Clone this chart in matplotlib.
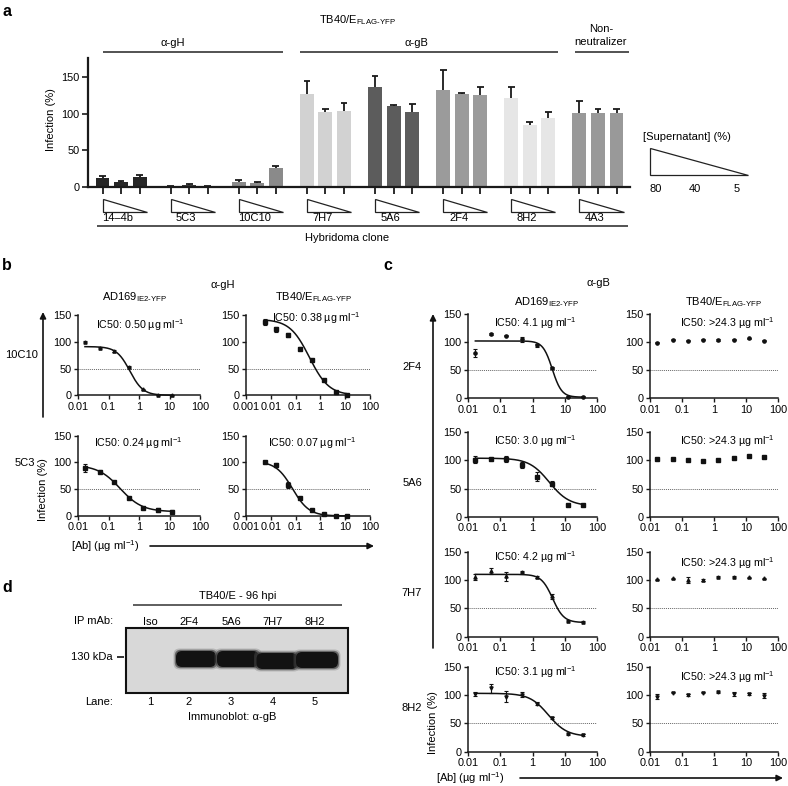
import numpy as np
import matplotlib
matplotlib.use('Agg')
import matplotlib.pyplot as plt
from matplotlib.patches import Polygon, FancyBboxPatch, Rectangle
from matplotlib.ticker import NullLocator

plt.rcParams['font.family'] = ['Liberation Sans', 'DejaVu Sans']
plt.rcParams['mathtext.fontset'] = 'custom'
plt.rcParams['mathtext.rm'] = 'Liberation Sans'
plt.rcParams['mathtext.it'] = 'Liberation Sans:italic'
plt.rcParams['mathtext.bf'] = 'Liberation Sans:bold'
plt.rcParams['font.size'] = 8

# ---------------- data: panel a (bar chart) ----------------
clones_a = ['14–4b', '5C3', '10C10', '7H7', '5A6', '2F4', '8H2', '4A3']
supernatant = ['80', '40', '5']
bar_vals = [[11.5, 6.5, 13.5], [1.0, 2.0, 1.0], [7, 5, 26], [127, 103, 104],
            [136, 110, 102], [133, 127, 125], [121, 85, 94], [101, 101, 101]]
bar_errs = [[3.5, 1, 2.5], [0.5, 1.5, 0.5], [2.5, 1, 2], [18, 3, 11],
            [16, 2, 11], [27, 2, 12], [16, 3, 8.5], [16, 5, 5]]
bar_colors = ['#262626', '#3a3a3a', '#8a8a8a', '#d2d2d2',
              '#5c5c5c', '#9b9b9b', '#e6e6e6', '#999999']

# ---------------- data: panel b (alpha-gH) ----------------
conc_b_ad = [0.0169, 0.0508, 0.152, 0.457, 1.37, 4.12, 12.3]
conc_b_tb = [0.0056, 0.0169, 0.0508, 0.152, 0.457, 1.37, 4.12, 12.3]
b_10c10_ad = [100, 89, 82, 53, 11, 0.5, 0.5]
b_10c10_ad_err = [1, 1, 2, 1, 1, 0.5, 0.5]
b_10c10_tb = [137, 123, 113, 87, 66, 28, 7, 1]
b_10c10_tb_err = [5, 4, 4, 3, 2, 2, 1, 1]
b_5c3_ad = [90, 83, 63, 34, 15.5, 11, 8]
b_5c3_ad_err = [8, 2, 2, 2, 1.5, 4, 3]
b_5c3_tb = [100, 95, 58, 33, 11, 3, 0.5, 0.5]
b_5c3_tb_err = [1, 4, 5, 2, 2, 1, 0.5, 0.5]
# fitted curve parameters: top, bottom, IC50, hill
b_fits = {'10c10_ad': [91, 0, 0.5, 2.0], '10c10_tb': [142, 0, 0.36, 1.1],
          '5c3_ad': [95, 8, 0.24, 1.2], '5c3_tb': [102, 0, 0.075, 1.3]}
b_ic50 = ['0.50', '0.38', '0.24', '0.07']

# ---------------- data: panel c (alpha-gB) ----------------
conc_c = [0.0169, 0.0508, 0.152, 0.457, 1.37, 4.12, 12.3, 37.0]
clones_c = ['2F4', '5A6', '7H7', '8H2']
markers_c = ['o', 's', '^', 'v']
c_ad = [[80, 114, 111, 105, 94, 54, 3, 3],
        [101, 103, 102, 92, 71, 59, 21, 21],
        [105, 116, 107, 115, 105, 71, 28, 26.5],
        [102, 112, 97, 100.6, 85, 59.4, 31, 29.4]]
c_ad_err = [[7, 2, 1, 4, 2, 2, 1, 1],
            [6, 1, 5, 5, 8, 4, 1, 1],
            [5, 5, 8, 1, 2, 5, 1, 1],
            [4, 8, 10, 4, 3, 2, 1, 2]]
c_tb = [[99, 104, 102.5, 104, 104, 104, 107, 102.5],
        [102.6, 102.6, 101, 99.6, 101, 104, 107, 105.6],
        [101, 103, 100, 100, 106, 106, 104.7, 103],
        [97, 104, 100, 104, 104.7, 101.8, 101.8, 99]]
c_tb_err = [[1, 1, 1, 1, 2, 1, 1, 1],
            [1, 1, 1, 1, 1, 1, 1, 1],
            [1, 1, 5, 1, 1, 1, 1, 1],
            [4, 1, 1, 1, 1, 4, 1, 5]]
c_fits = [[102, 2, 4.1, 3.0], [104, 19, 3.3, 1.4],
          [110, 25, 4.2, 2.5], [103, 27, 3.1, 1.5]]
c_ic50 = ['4.1', '3.0', '4.2', '3.1']

# ---------------- data: panel d (blot) ----------------
lane_names = ['Iso', '2F4', '5A6', '7H7', '8H2']
lane_nums = ['1', '2', '3', '4', '5']
band_present = [0, 1, 1, 1, 1]

W, H = 788, 786
fig = plt.figure(figsize=(W / 100, H / 100), dpi=100)

ov = fig.add_axes([0, 0, 1, 1])
ov.set_xlim(0, W)
ov.set_ylim(H, 0)
ov.axis('off')


def px_axes(l, t, r, b):
    return fig.add_axes([l / W, 1 - b / H, (r - l) / W, (b - t) / H])


def txt(x, y, s, **kw):
    kw.setdefault('ha', 'center')
    kw.setdefault('va', 'center')
    ov.text(x, y, s, **kw)


def hline(x0, x1, y, lw=1.3, color='#444444'):
    ov.plot([x0, x1], [y, y], color=color, lw=lw, solid_capstyle='butt')


def arrow(x0, y0, x1, y1):
    ov.annotate('', xy=(x1, y1), xytext=(x0, y0),
                arrowprops=dict(arrowstyle='-|>', lw=1.2, color='#111111',
                                mutation_scale=9, shrinkA=0, shrinkB=0))


TB = r'TB40/E$_{\text{FLAG-YFP}}$'
AD = r'AD169$_{\text{IE2-YFP}}$'
UNIT = r' µg ml$^{-1}$'
IC_FS = 7.7
TICK_FS = 7.8

# panel letters
for lab, x, y in [('a', 7, 12), ('b', 7, 266), ('c', 388, 266), ('d', 7, 588)]:
    txt(x, y, lab, fontsize=11.5, fontweight='bold')

# ================= panel a =================
A_L, A_R, A_T, A_B = 88, 630, 57.5, 186.7
XMIN, XMAX = -0.485, 7.47
axa = px_axes(A_L, A_T, A_R, A_B)
offs = [-0.272, 0.0, 0.272]
xs_all = []
for i, (vals, errs, col) in enumerate(zip(bar_vals, bar_errs, bar_colors)):
    x = np.array([i + o for o in offs])
    v = np.array(vals)
    e = np.array(errs)
    axa.bar(x, v, width=0.205, color=col, zorder=2)
    axa.vlines(x, v, v + e, color='#1a1a1a', lw=1.3, zorder=3)
    axa.hlines(v + e, x - 0.05, x + 0.05, color='#1a1a1a', lw=1.3, zorder=3)
    xs_all.extend(x)
axa.set_xlim(XMIN, XMAX)
axa.set_ylim(0, 177)
axa.set_yticks([0, 50, 100, 150])
axa.set_xticks(xs_all)
axa.set_xticklabels([])
for s in ['top', 'right']:
    axa.spines[s].set_visible(False)
for s in ['left', 'bottom']:
    axa.spines[s].set_linewidth(1.6)
    axa.spines[s].set_color('#1a1a1a')
axa.tick_params(axis='x', length=5, width=1.3, color='#1a1a1a')
axa.tick_params(axis='y', length=4, width=1.2, color='#1a1a1a',
                labelsize=TICK_FS, pad=2)
axa.patch.set_alpha(0)
txt(51, 120, 'Infection (%)', rotation=90)


def a_px(x):
    return A_L + (x - XMIN) / (XMAX - XMIN) * (A_R - A_L)


for i, name in enumerate(clones_a):
    b1 = a_px(i + offs[0])
    b3 = a_px(i + offs[2])
    ov.add_patch(Polygon([(b1, 199), (b1, 212), (b3 + 7, 212)], closed=True,
                         facecolor='white', edgecolor='#222222', lw=0.9))
    txt(a_px(i) - 3, 218, name)
hline(97, 628, 225.5)
txt(347, 238, 'Hybridoma clone')

txt(357, 20, TB)
hline(a_px(offs[0]), a_px(2.38), 52)
txt(173, 43, 'α-gH')
hline(a_px(2.63), a_px(6.41), 52)
txt(416, 43, 'α-gB')
hline(a_px(6.66), a_px(7.46), 52)
txt(601, 29, 'Non-')
txt(601, 42, 'neutralizer')

# supernatant legend
txt(643, 137, '[Supernatant] (%)', ha='left')
ov.add_patch(Polygon([(650, 148), (650, 175), (748, 175)], closed=True,
                     facecolor='white', edgecolor='#222222', lw=0.9))
for lab, x in zip(supernatant, [656, 695, 737]):
    txt(x, 188.5, lab)


# ================= dose-response helpers =================
def style_dr(ax, xmin):
    ax.set_xscale('log')
    ax.set_xlim(xmin, 100)
    ax.set_ylim(0, 150)
    ticks = [10.0 ** k for k in range(int(round(np.log10(xmin))), 3)]
    ax.set_xticks(ticks)
    ax.set_xticklabels(['%g' % t for t in ticks])
    ax.xaxis.set_minor_locator(NullLocator())
    ax.set_yticks([0, 50, 100, 150])
    for s in ['top', 'right']:
        ax.spines[s].set_visible(False)
    for s in ['left', 'bottom']:
        ax.spines[s].set_linewidth(1.1)
        ax.spines[s].set_color('#1a1a1a')
    ax.tick_params(length=3, width=1.0, color='#1a1a1a', labelsize=TICK_FS, pad=1.5)
    ax.axhline(50, ls=(0, (1, 1)), color='#666666', lw=0.7, zorder=1)
    ax.patch.set_alpha(0)


def plot_dr(ax, conc, vals, errs, marker, fit=None):
    ax.errorbar(conc, vals, yerr=errs, fmt=marker, ms=2.3, color='#111111',
                ecolor='#111111', elinewidth=0.8, capsize=1.5, capthick=0.8,
                clip_on=False, zorder=4)
    if fit is not None:
        top, bot, ic, h = fit
        xs = np.logspace(np.log10(conc[0]), np.log10(conc[-1]), 200)
        ax.plot(xs, bot + (top - bot) / (1 + (xs / ic) ** h), color='#111111',
                lw=1.1, zorder=3, clip_on=False)


# ================= panel b =================
txt(223, 285, 'α-gH')
txt(135, 297, AD)
txt(313, 297, TB)
b_rows = [(315, 395.3), (435.7, 516)]
b_sets = [
    [(conc_b_ad, b_10c10_ad, b_10c10_ad_err, '^', b_fits['10c10_ad']),
     (conc_b_tb, b_10c10_tb, b_10c10_tb_err, 's', b_fits['10c10_tb'])],
    [(conc_b_ad, b_5c3_ad, b_5c3_ad_err, 's', b_fits['5c3_ad']),
     (conc_b_tb, b_5c3_tb, b_5c3_tb_err, 's', b_fits['5c3_tb'])],
]
b_ic_pos = [[(140, 325), (316, 318)], [(138, 443), (312, 443)]]
k = 0
for r, (top, bot) in enumerate(b_rows):
    for c, (l, rr, xmin) in enumerate([(78, 200, 0.01), (246, 370, 0.001)]):
        ax = px_axes(l, top, rr, bot)
        style_dr(ax, xmin)
        conc, v, e, m, f = b_sets[r][c]
        plot_dr(ax, conc, v, e, m, f)
        x, y = b_ic_pos[r][c]
        txt(x, y, 'IC50: ' + b_ic50[k] + UNIT, fontsize=IC_FS)
        k += 1
txt(22, 355, '10C10')
txt(25, 463, '5C3')
arrow(43, 417, 43, 312)
txt(43, 490, 'Infection (%)', rotation=90)
txt(105, 546, '[Ab] (µg ml$^{-1}$)')
arrow(150, 546, 374, 546)

# ================= panel c =================
txt(598, 283, 'α-gB')
txt(547, 302, AD)
txt(723, 302, TB)
c_rows = [(314, 398.3), (432.3, 516.7), (551.7, 636.7), (666.7, 751.7)]
c_lab_y = [367, 483, 593, 708]
c_ic_y_left = [323, 441, 557, 672]
c_ic_y_right = [323, 441, 563, 677]
for r, (top, bot) in enumerate(c_rows):
    axl = px_axes(468, top, 597, bot)
    style_dr(axl, 0.01)
    plot_dr(axl, conc_c, c_ad[r], c_ad_err[r], markers_c[r], c_fits[r])
    axr = px_axes(650, top, 778, bot)
    style_dr(axr, 0.01)
    plot_dr(axr, conc_c, c_tb[r], c_tb_err[r], markers_c[r])
    txt(535, c_ic_y_left[r], 'IC50: ' + c_ic50[r] + UNIT, fontsize=IC_FS)
    txt(727, c_ic_y_right[r], 'IC50: >24.3' + UNIT, fontsize=IC_FS)
    txt(412, c_lab_y[r], clones_c[r])
arrow(433, 648, 433, 314)
txt(433, 723, 'Infection (%)', rotation=90)
txt(470, 778, '[Ab] (µg ml$^{-1}$)')
arrow(520, 778, 783, 778)

# ================= panel d =================
txt(238, 596, 'TB40/E - 96 hpi')
hline(133, 342, 605, lw=1.1, color='#333333')
txt(113, 621, 'IP mAb:', ha='right')
lane_x = [150, 189, 231, 273, 315]
for name, x in zip(lane_names, lane_x):
    txt(x, 622, name)
ov.add_patch(Rectangle((126, 628), 222, 65, facecolor='#d8d8d8',
                       edgecolor='#111111', lw=1.5))
band_x = [150, 196, 238, 277, 317]
band_y = [659, 659, 659, 661, 660]
band_w = [40, 40, 42, 41, 42]
for p, x, y, w in zip(band_present, band_x, band_y, band_w):
    if not p:
        continue
    for grow, col, a in [(5, '#6a6a6a', 0.3), (2.5, '#333333', 0.6), (0, '#121212', 1.0)]:
        ov.add_patch(FancyBboxPatch((x - w / 2 - grow / 2, y - 8 - grow / 2),
                                    w + grow, 16 + grow,
                                    boxstyle='round,pad=0,rounding_size=6',
                                    facecolor=col, edgecolor='none', alpha=a))
txt(113, 657, '130 kDa', ha='right')
hline(117, 124, 657, lw=1.2, color='#111111')
txt(113, 702, 'Lane:', ha='right')
for n, x in zip(lane_nums, lane_x):
    txt(x, 702, n)
txt(232, 717, 'Immunoblot: α-gB')

fig.savefig('out.png', dpi=100)
